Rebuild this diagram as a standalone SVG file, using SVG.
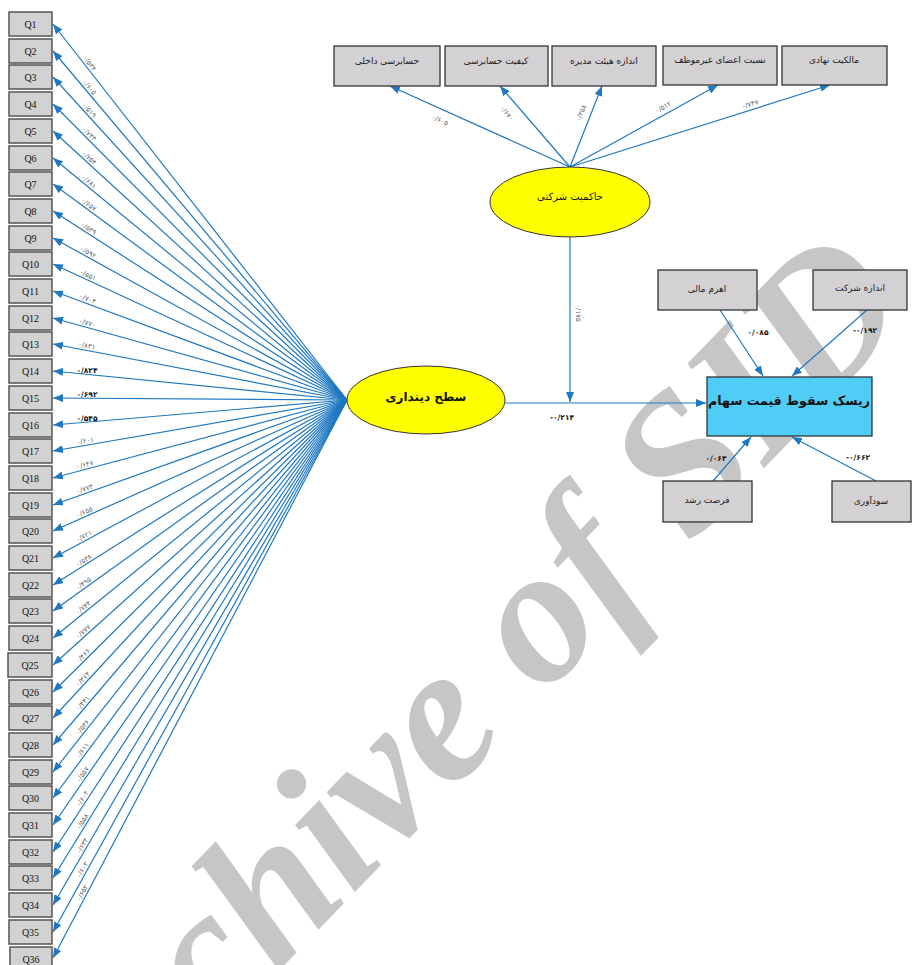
<svg xmlns="http://www.w3.org/2000/svg" width="912" height="965" viewBox="0 0 912 965">
<style>
.q rect{fill:#d2d2d2;stroke:#555;stroke-width:1.5}
.q text{font-family:"Liberation Serif",serif;font-size:10px;fill:#111;text-anchor:middle}
.b rect{fill:#d3d1d3;stroke:#333;stroke-width:1.3}
.b text{font-family:"DejaVu Sans",sans-serif;font-size:9px;fill:#222;text-anchor:middle}
.e ellipse{fill:#ffff00;stroke:#333;stroke-width:1}
.e text{font-family:"DejaVu Sans",sans-serif;fill:#111;text-anchor:middle}
.c line{stroke:#1f78c1;stroke-width:1.2;marker-end:url(#ah)}
.lb text{font-family:"DejaVu Sans",sans-serif;font-size:7px;fill:#666;text-anchor:middle}
.lb text.k{fill:#111;font-weight:bold;font-size:7.5px}
</style>
<defs>
<marker id="ah" markerWidth="10" markerHeight="8" refX="10" refY="4" orient="auto" markerUnits="userSpaceOnUse"><path d="M0,0 L10,4 L0,8 z" fill="#1f78c1"/></marker>
</defs>
<text x="73" y="1184" transform="rotate(-46 73 1184)" font-family="Liberation Serif,serif" font-style="italic" font-weight="bold" font-size="195" fill="#c6c6c6">Archive of SID</text>
<g class="c" id="connectors">
<line x1="347" y1="400" x2="53" y2="24"/>
<line x1="347" y1="400" x2="53" y2="51"/>
<line x1="347" y1="400" x2="53" y2="77"/>
<line x1="347" y1="400" x2="53" y2="104"/>
<line x1="347" y1="400" x2="53" y2="131"/>
<line x1="347" y1="400" x2="53" y2="158"/>
<line x1="347" y1="400" x2="53" y2="184"/>
<line x1="347" y1="400" x2="53" y2="211"/>
<line x1="347" y1="400" x2="53" y2="238"/>
<line x1="347" y1="400" x2="53" y2="264"/>
<line x1="347" y1="400" x2="53" y2="291"/>
<line x1="347" y1="400" x2="53" y2="318"/>
<line x1="347" y1="400" x2="53" y2="344"/>
<line x1="347" y1="400" x2="53" y2="371"/>
<line x1="347" y1="400" x2="53" y2="398"/>
<line x1="347" y1="400" x2="53" y2="425"/>
<line x1="347" y1="400" x2="53" y2="451"/>
<line x1="347" y1="400" x2="53" y2="478"/>
<line x1="347" y1="400" x2="53" y2="505"/>
<line x1="347" y1="400" x2="53" y2="531"/>
<line x1="347" y1="400" x2="53" y2="558"/>
<line x1="347" y1="400" x2="53" y2="585"/>
<line x1="347" y1="400" x2="53" y2="611"/>
<line x1="347" y1="400" x2="53" y2="638"/>
<line x1="347" y1="400" x2="53" y2="665"/>
<line x1="347" y1="400" x2="53" y2="692"/>
<line x1="347" y1="400" x2="53" y2="718"/>
<line x1="347" y1="400" x2="53" y2="745"/>
<line x1="347" y1="400" x2="53" y2="772"/>
<line x1="347" y1="400" x2="53" y2="798"/>
<line x1="347" y1="400" x2="53" y2="825"/>
<line x1="347" y1="400" x2="53" y2="852"/>
<line x1="347" y1="400" x2="53" y2="878"/>
<line x1="347" y1="400" x2="53" y2="905"/>
<line x1="347" y1="400" x2="53" y2="932"/>
<line x1="347" y1="400" x2="53" y2="958"/>
<line x1="570" y1="167" x2="390" y2="86"/>
<line x1="570" y1="167" x2="500" y2="86"/>
<line x1="570" y1="167" x2="602" y2="86"/>
<line x1="570" y1="167" x2="718" y2="85"/>
<line x1="570" y1="167" x2="830" y2="85"/>
<line x1="570" y1="236" x2="570" y2="402"/>
<line x1="505" y1="403" x2="706" y2="403"/>
<line x1="720" y1="310" x2="763" y2="376"/>
<line x1="867" y1="310" x2="792" y2="376"/>
<line x1="713" y1="481" x2="751" y2="437"/>
<line x1="876" y1="481" x2="792" y2="437"/>
</g>
<g class="lb" id="labels">
<text transform="translate(86 66) rotate(52)" y="-2">۰/۵۳۴</text>
<text transform="translate(86 90) rotate(49.9)" y="-2">۰/۶۰۵</text>
<text transform="translate(86 113) rotate(47.7)" y="-2">۰/۵۱۹</text>
<text transform="translate(86 137) rotate(45.2)" y="-2">۰/۷۴۴</text>
<text transform="translate(86 161) rotate(42.5)" y="-2">۰/۷۵۴</text>
<text transform="translate(86 185) rotate(39.5)" y="-2">۰/۶۸۱</text>
<text transform="translate(86 208) rotate(36.3)" y="-2">۰/۶۵۷</text>
<text transform="translate(86 232) rotate(32.7)" y="-2">۰/۵۳۹</text>
<text transform="translate(86 256) rotate(28.9)" y="-2">۰/۵۹۲</text>
<text transform="translate(86 279) rotate(24.8)" y="-2">۰/۵۵۱</text>
<text transform="translate(86 303) rotate(20.3)" y="-2">۰/۷۰۳</text>
<text transform="translate(86 327) rotate(15.6)" y="-2">۰/۷۷۰</text>
<text transform="translate(86 350) rotate(10.8)" y="-2">۰/۸۳۱</text>
<text class="k" x="87" y="373">۰/۸۲۴</text>
<text class="k" x="87" y="397">۰/۶۹۲</text>
<text class="k" x="87" y="421">۰/۵۴۵</text>
<text transform="translate(86 445) rotate(-9.8)" y="-2">۰/۶۰۱</text>
<text transform="translate(86 469) rotate(-14.9)" y="-2">۰/۶۴۷</text>
<text transform="translate(86 493) rotate(-19.6)" y="-2">۰/۷۷۳</text>
<text transform="translate(86 516) rotate(-24)" y="-2">۰/۶۵۵</text>
<text transform="translate(86 540) rotate(-28.3)" y="-2">۰/۷۲۱</text>
<text transform="translate(86 564) rotate(-32.2)" y="-2">۰/۵۳۸</text>
<text transform="translate(86 587) rotate(-35.7)" y="-2">۰/۴۹۵</text>
<text transform="translate(86 611) rotate(-39)" y="-2">۰/۷۴۴</text>
<text transform="translate(86 635) rotate(-42)" y="-2">۰/۷۷۷</text>
<text transform="translate(86 659) rotate(-44.8)" y="-2">۰/۴۶۶</text>
<text transform="translate(86 682) rotate(-47.2)" y="-2">۰/۴۷۳</text>
<text transform="translate(86 706) rotate(-49.6)" y="-2">۰/۴۴۱</text>
<text transform="translate(86 730) rotate(-51.7)" y="-2">۰/۵۳۶</text>
<text transform="translate(86 753) rotate(-53.6)" y="-2">۰/۶۱۱</text>
<text transform="translate(86 777) rotate(-55.3)" y="-2">۰/۵۵۷</text>
<text transform="translate(86 801) rotate(-56.9)" y="-2">۰/۶۰۴</text>
<text transform="translate(86 824) rotate(-58.4)" y="-2">۰/۵۵۸</text>
<text transform="translate(86 848) rotate(-59.8)" y="-2">۰/۶۳۴</text>
<text transform="translate(86 872) rotate(-61.1)" y="-2">۰/۶۰۳</text>
<text transform="translate(86 895) rotate(-62.2)" y="-2">۰/۶۵۲</text>
<text transform="translate(440 120) rotate(24)" y="2.5">۰/۶۰۵</text>
<text transform="translate(507 113) rotate(49)" y="2.5">۰/۶۷۰</text>
<text transform="translate(581 113) rotate(-68)" y="2.5">۰/۳۵۸</text>
<text transform="translate(663 107) rotate(-29)" y="2.5">۰/۵۱۲</text>
<text transform="translate(750 104) rotate(-17.5)" y="2.5">۰/۷۴۷</text>
<text transform="translate(578 313) rotate(90)" y="2.5">۰/۱۷۵</text>
<text class="k" x="562" y="420">-۰/۲۱۴</text>
<text class="k" x="758" y="335">۰/۰۸۵</text>
<text class="k" x="865" y="333">-۰/۱۹۲</text>
<text class="k" x="716" y="461">۰/۰۶۳</text>
<text class="k" x="858" y="460">-۰/۶۶۲</text>
</g>
<g class="q">
<g id="q1"><rect x="9" y="12" width="43" height="24"/><text x="30.5" y="27.5">Q1</text></g>
<g id="q2"><rect x="9" y="39" width="43" height="24"/><text x="30.5" y="54.5">Q2</text></g>
<g id="q3"><rect x="9" y="65" width="43" height="24"/><text x="30.5" y="80.5">Q3</text></g>
<g id="q4"><rect x="9" y="92" width="43" height="24"/><text x="30.5" y="107.5">Q4</text></g>
<g id="q5"><rect x="9" y="119" width="43" height="24"/><text x="30.5" y="134.5">Q5</text></g>
<g id="q6"><rect x="9" y="146" width="43" height="24"/><text x="30.5" y="161.5">Q6</text></g>
<g id="q7"><rect x="9" y="172" width="43" height="24"/><text x="30.5" y="187.5">Q7</text></g>
<g id="q8"><rect x="9" y="199" width="43" height="24"/><text x="30.5" y="214.5">Q8</text></g>
<g id="q9"><rect x="9" y="226" width="43" height="24"/><text x="30.5" y="241.5">Q9</text></g>
<g id="q10"><rect x="9" y="252" width="43" height="24"/><text x="30.5" y="267.5">Q10</text></g>
<g id="q11"><rect x="9" y="279" width="43" height="24"/><text x="30.5" y="294.5">Q11</text></g>
<g id="q12"><rect x="9" y="306" width="43" height="24"/><text x="30.5" y="321.5">Q12</text></g>
<g id="q13"><rect x="9" y="332" width="43" height="24"/><text x="30.5" y="347.5">Q13</text></g>
<g id="q14"><rect x="9" y="359" width="43" height="24"/><text x="30.5" y="374.5">Q14</text></g>
<g id="q15"><rect x="9" y="386" width="43" height="24"/><text x="30.5" y="401.5">Q15</text></g>
<g id="q16"><rect x="9" y="413" width="43" height="24"/><text x="30.5" y="428.5">Q16</text></g>
<g id="q17"><rect x="9" y="439" width="43" height="24"/><text x="30.5" y="454.5">Q17</text></g>
<g id="q18"><rect x="9" y="466" width="43" height="24"/><text x="30.5" y="481.5">Q18</text></g>
<g id="q19"><rect x="9" y="493" width="43" height="24"/><text x="30.5" y="508.5">Q19</text></g>
<g id="q20"><rect x="9" y="519" width="43" height="24"/><text x="30.5" y="534.5">Q20</text></g>
<g id="q21"><rect x="9" y="546" width="43" height="24"/><text x="30.5" y="561.5">Q21</text></g>
<g id="q22"><rect x="9" y="573" width="43" height="24"/><text x="30.5" y="588.5">Q22</text></g>
<g id="q23"><rect x="9" y="599" width="43" height="24"/><text x="30.5" y="614.5">Q23</text></g>
<g id="q24"><rect x="9" y="626" width="43" height="24"/><text x="30.5" y="641.5">Q24</text></g>
<g id="q25"><rect x="8" y="653" width="44" height="24"/><text x="30" y="668.5">Q25</text></g>
<g id="q26"><rect x="9" y="680" width="43" height="24"/><text x="30.5" y="695.5">Q26</text></g>
<g id="q27"><rect x="9" y="706" width="43" height="24"/><text x="30.5" y="721.5">Q27</text></g>
<g id="q28"><rect x="9" y="733" width="43" height="24"/><text x="30.5" y="748.5">Q28</text></g>
<g id="q29"><rect x="9" y="760" width="43" height="24"/><text x="30.5" y="775.5">Q29</text></g>
<g id="q30"><rect x="9" y="786" width="43" height="24"/><text x="30.5" y="801.5">Q30</text></g>
<g id="q31"><rect x="9" y="813" width="43" height="24"/><text x="30.5" y="828.5">Q31</text></g>
<g id="q32"><rect x="9" y="840" width="43" height="24"/><text x="30.5" y="855.5">Q32</text></g>
<g id="q33"><rect x="9" y="866" width="43" height="24"/><text x="30.5" y="881.5">Q33</text></g>
<g id="q34"><rect x="9" y="893" width="43" height="24"/><text x="30.5" y="908.5">Q34</text></g>
<g id="q35"><rect x="9" y="920" width="43" height="24"/><text x="30.5" y="935.5">Q35</text></g>
<g id="q36"><rect x="10" y="947" width="42" height="24"/><text x="31" y="962.5">Q36</text></g>
</g>
<g class="b">
<g id="internal-audit"><rect x="334" y="46" width="106" height="40"/><text x="387" y="64">حسابرسی داخلی</text></g>
<g id="audit-quality"><rect x="445" y="46" width="103" height="40"/><text x="496" y="64">کیفیت حسابرسی</text></g>
<g id="board-size"><rect x="552" y="46" width="104" height="40"/><text x="604" y="64" font-size="8.5">اندازه هیئت مدیره</text></g>
<g id="nonexec-ratio"><rect x="663" y="46" width="114" height="39"/><text x="720" y="63" font-size="8.5">نسبت اعضای غیرموظف</text></g>
<g id="inst-ownership"><rect x="782" y="46" width="105" height="39"/><text x="834" y="63">مالکیت نهادی</text></g>
<g id="leverage"><rect x="658" y="270" width="99" height="40"/><text x="707" y="292">اهرم مالی</text></g>
<g id="firm-size"><rect x="813" y="270" width="94" height="40"/><text x="860" y="291">اندازه شرکت</text></g>
<g id="growth"><rect x="663" y="481" width="89" height="41"/><text x="707" y="503">فرصت رشد</text></g>
<g id="profitability"><rect x="832" y="481" width="79" height="41"/><text x="871" y="504">سودآوری</text></g>
</g>
<g class="e">
<g id="corp-gov"><ellipse cx="570" cy="202" rx="80" ry="35"/><text x="570" y="200" font-size="10">حاکمیت شرکتی</text></g>
<g id="religiosity"><ellipse cx="426" cy="400" rx="79" ry="34"/><text x="426" y="401" font-size="12" font-weight="bold">سطح دینداری</text></g>
</g>
<g id="crash-risk"><rect x="707" y="377" width="165" height="59" fill="#4fcdf7" stroke="#333" stroke-width="1.3"/><text x="789" y="405" font-family="DejaVu Sans,sans-serif" font-size="12.5" font-weight="bold" fill="#111" text-anchor="middle">ریسک سقوط قیمت سهام</text></g>
</svg>
